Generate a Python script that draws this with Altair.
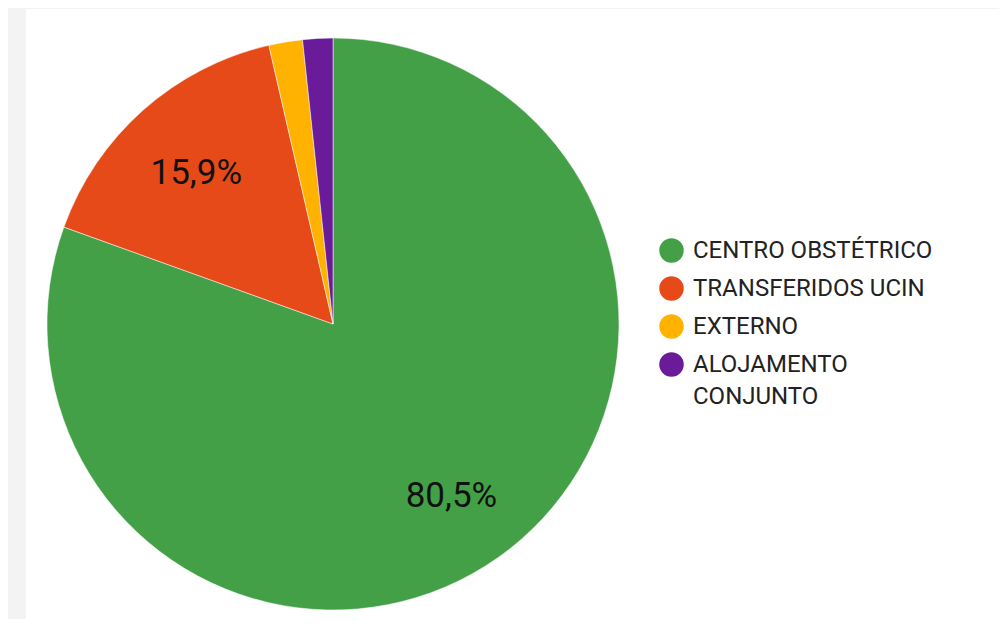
import altair as alt
import pandas as pd

categories = ["CENTRO OBSTÉTRICO", "TRANSFERIDOS UCIN", "EXTERNO", "ALOJAMENTO CONJUNTO"]
values = [80.5, 15.9, 1.9, 1.7]
labels = ["80,5%", "15,9%", "", ""]
colors = ["#43A047", "#E64A19", "#FFB300", "#6A1B9A"]

df = pd.DataFrame({
    "categoria": categories,
    "valor": values,
    "rotulo": labels,
    "ordem": list(range(len(categories))),
})

color = alt.Color(
    "categoria:N",
    scale=alt.Scale(domain=categories, range=colors),
    sort=categories,
    legend=alt.Legend(
        title=None,
        orient="none",
        legendX=633,
        legendY=229,
        symbolType="circle",
        symbolSize=600,
        symbolStrokeWidth=0,
        labelFont="Roboto",
        labelFontSize=24,
        labelColor="#222222",
        labelLimit=400,
        rowPadding=13,
        labelOffset=9,
        labelExpr="datum.label == 'ALOJAMENTO CONJUNTO' ? ['ALOJAMENTO', 'CONJUNTO'] : datum.label",
    ),
)

base = alt.Chart(df).encode(
    theta=alt.Theta("valor:Q", stack=True),
    order=alt.Order("ordem:Q"),
    x=alt.value(307),
    y=alt.value(315),
)

pie = base.mark_arc(outerRadius=286, stroke="white", strokeWidth=0.5).encode(color=color)
text = base.mark_text(radius=206, dy=3, font="Roboto", fontSize=35, color="#111111").encode(
    text="rotulo:N"
)

chart = (
    alt.layer(pie, text)
    .properties(
        width=973,
        height=610,
        padding={"left": 18, "top": 1, "right": 0, "bottom": 0},
        background="#f3f3f3",
    )
    .configure(
        autosize=alt.AutoSizeParams(type="none"),
        style={"guide-label": {"lineHeight": 32}},
    )
    .configure_view(fill="white", stroke=None)
)

chart.save("out.html", embed_options={"renderer": "svg", "actions": False})
